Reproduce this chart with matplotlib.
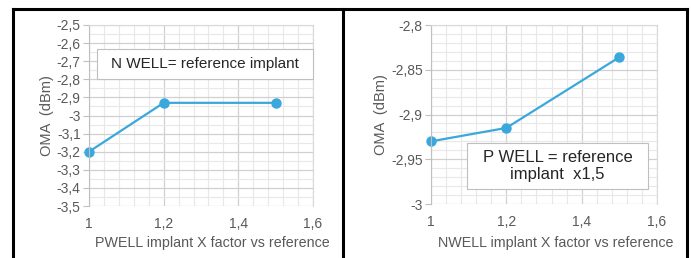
import matplotlib
matplotlib.use("Agg")
import matplotlib.pyplot as plt
from matplotlib.ticker import MultipleLocator, FuncFormatter
from matplotlib.patches import Rectangle
from matplotlib.lines import Line2D

plt.rcParams['font.family'] = ['Liberation Sans', 'DejaVu Sans']

# Data
left_x = [1.0, 1.2, 1.5]
left_y = [-3.2, -2.93, -2.93]
right_x = [1.0, 1.2, 1.5]
right_y = [-2.93, -2.915, -2.836]

left_xlabel = "PWELL implant X factor vs reference"
right_xlabel = "NWELL implant X factor vs reference"
ylabel = "OMA  (dBm)"
left_note = "N WELL= reference implant"
right_note = "P WELL = reference\nimplant  x1,5"

W, H = 691, 258
fig = plt.figure(figsize=(W / 100, H / 100), dpi=100)
fig.patch.set_facecolor('white')

def px_axes(x0, y0, x1, y1):
    return fig.add_axes([x0 / W, 1 - y1 / H, (x1 - x0) / W, (y1 - y0) / H])

line_color = '#3aa8dc'
text_color = '#595959'

def comma(v, pos, nd):
    s = f"{v:.{nd}f}".rstrip('0').rstrip('.')
    if s == '-0':
        s = '0'
    return s.replace('.', ',')

def style(ax, ymin, ymax, ymaj, ymin_step, ynd):
    ax.set_xlim(1.0, 1.6)
    ax.set_ylim(ymin, ymax)
    ax.xaxis.set_major_locator(MultipleLocator(0.2))
    ax.xaxis.set_minor_locator(MultipleLocator(0.04))
    ax.yaxis.set_major_locator(MultipleLocator(ymaj))
    ax.yaxis.set_minor_locator(MultipleLocator(ymin_step))
    ax.xaxis.set_major_formatter(FuncFormatter(lambda v, p: comma(v, p, 1)))
    ax.yaxis.set_major_formatter(FuncFormatter(lambda v, p: comma(v, p, ynd)))
    ax.grid(True, which='major', color='#d0d0d0', lw=0.9)
    ax.grid(True, which='minor', color='#e8e8e8', lw=0.8)
    ax.set_axisbelow(True)
    for s in ['top', 'right']:
        ax.spines[s].set_color('#d9d9d9')
    ax.spines['bottom'].set_visible(False)
    ax.spines['left'].set_color('#bfbfbf')
    ax.tick_params(axis='both', which='both', length=0, labelsize=10, colors=text_color)
    ax.tick_params(axis='y', which='major', length=4, color='#bfbfbf', pad=2)
    ax.tick_params(axis='x', which='major', pad=8)
    ax.yaxis.label.set_color(text_color)
    ax.xaxis.label.set_color(text_color)

# Left chart
axL = px_axes(89, 25, 313, 206)
style(axL, -3.5, -2.5, 0.1, 0.05, 1)
axL.plot(left_x, left_y, color=line_color, lw=1.6, marker='o', ms=6.5, clip_on=False)
axL.set_ylabel(ylabel, fontsize=10.5, labelpad=2)
axL.set_xlabel(left_xlabel, fontsize=10.3)
axL.xaxis.set_label_coords(0.553, -0.166)
fig.patches.append(Rectangle((97 / W, 1 - 79 / H), (313 - 97) / W, 30 / H,
                             transform=fig.transFigure, fc='white', ec='#bfbfbf', lw=0.8, zorder=5))
fig.text((97 + 313) / 2 / W, 1 - 64 / H, left_note, ha='center', va='center',
         fontsize=11, color='#262626', zorder=6)

# Right chart
axR = px_axes(431, 25, 657, 204)
style(axR, -3.0, -2.8, 0.05, 0.01, 2)
axR.plot(right_x, right_y, color=line_color, lw=1.6, marker='o', ms=6.5, clip_on=False)
axR.set_ylabel(ylabel, fontsize=10.5, labelpad=2)
axR.set_xlabel(right_xlabel, fontsize=10.3)
axR.xaxis.set_label_coords(0.553, -0.179)
fig.patches.append(Rectangle((467 / W, 1 - 189 / H), (648 - 467) / W, 46 / H,
                             transform=fig.transFigure, fc='white', ec='#bfbfbf', lw=0.8, zorder=5))
fig.text((467 + 648) / 2 / W, 1 - 166 / H, right_note, ha='center', va='center',
         fontsize=12, color='#262626', linespacing=1.15, zorder=6)

# Black frame borders
for xs, ys in [([13.5, 13.5], [8.5, 258]), ([13.5, 687], [8.5, 8.5]),
               ([343, 343], [8.5, 258]), ([687, 687], [8.5, 258])]:
    fig.lines.append(Line2D([x / W for x in xs], [1 - y / H for y in ys],
                            transform=fig.transFigure, color='black', lw=2.2, zorder=10))

fig.savefig('out.png', dpi=100, facecolor='white')
